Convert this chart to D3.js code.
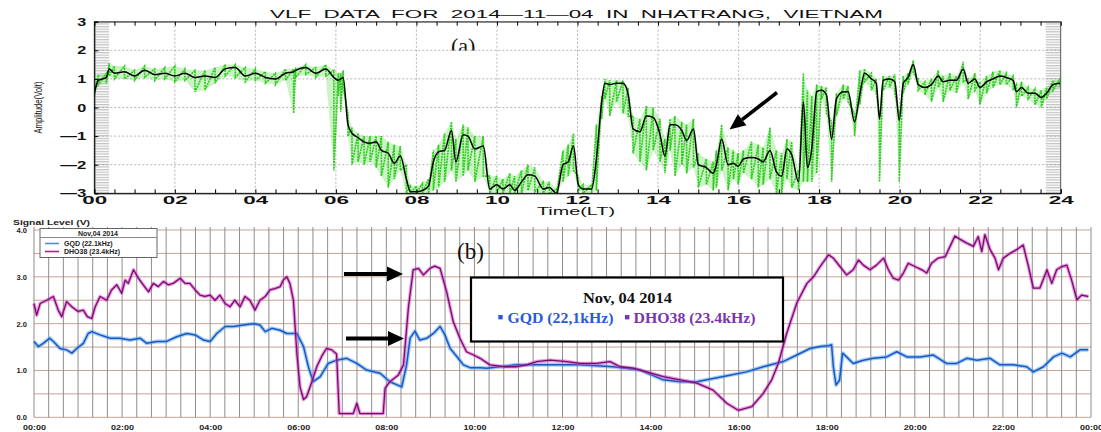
<!DOCTYPE html>
<html>
<head>
<meta charset="utf-8">
<script src="https://cdn.jsdelivr.net/npm/d3@7"></script>
<style>
  body { margin: 0; background: #fff; }
  svg { display: block; }
</style>
</head>
<body>
<div id="chart"></div>
<script>
// ---- panel (a): VLF amplitude, hours LT
const aTime = [
  0, 0.1, 0.3, 0.37, 0.5, 0.75, 1, 1.25, 1.5, 1.75,
  2, 2.25, 2.5, 2.75, 3, 3.25, 3.5, 3.75, 4, 4.25,
  4.5, 4.75, 4.95, 5, 5.25, 5.5, 5.75, 5.95, 6.06, 6.12,
  6.18, 6.3, 6.4, 6.55, 6.7, 6.85, 7, 7.13, 7.3, 7.45,
  7.6, 7.75, 7.85, 8, 8.15, 8.3, 8.42, 8.55, 8.7, 8.87,
  8.98, 9.16, 9.28, 9.45, 9.66, 9.82, 9.99, 10.15, 10.32, 10.44,
  10.61, 10.77, 10.94, 11.15, 11.3, 11.48, 11.64, 11.77, 11.9, 12.02,
  12.14, 12.35, 12.47, 12.6, 12.68, 12.8, 12.97, 13.13, 13.26, 13.38,
  13.55, 13.71, 13.88, 14.05, 14.17, 14.3, 14.42, 14.59, 14.71, 14.88,
  15, 15.2, 15.37, 15.45, 15.58, 15.74, 15.87, 15.99, 16.12, 16.32,
  16.49, 16.61, 16.78, 16.94, 17.07, 17.2, 17.32, 17.49, 17.61, 17.71,
  17.82, 17.94, 18.06, 18.18, 18.31, 18.43, 18.6, 18.72, 18.88, 19.01,
  19.13, 19.3, 19.42, 19.5, 19.59, 19.75, 19.88, 19.99, 20.09, 20.21,
  20.34, 20.46, 20.63, 20.79, 20.96, 21.08, 21.25, 21.41, 21.58, 21.7,
  21.87, 21.99, 22.16, 22.32, 22.49, 22.65, 22.82, 22.9, 23.03, 23.19,
  23.36, 23.52, 23.65, 23.81, 23.98
];
// smoothed (black) amplitude
const aAmp = [
  0.5, 0.95, 1.05, 1.35, 1.2, 1.25, 1.1, 1.3, 1.15, 1.2,
  1.1, 1.2, 1.05, 1.1, 1.05, 1.35, 1.4, 1.1, 1.2, 1.05,
  1.0, 1.2, 1.25, 1.3, 1.4, 1.2, 1.35, 1.05, 0.95, 1.0,
  1.05, -0.6, -0.9, -1.05, -1.2, -1.25, -1.2, -1.5, -1.6, -1.95,
  -1.7, -2.5, -2.95, -2.95, -2.9, -2.75, -1.9, -1.55, -1.5, -0.8,
  -1.9, -0.95, -1.0, -1.45, -1.35, -2.85, -2.7, -2.85, -2.7, -2.9,
  -2.6, -2.35, -2.4, -2.85, -2.8, -3.0, -2.0, -1.9, -1.35, -2.7,
  -2.85, -2.85, -1.8, 0.2, 0.85, 0.8, 0.85, 0.85, 0.45, -0.75,
  -0.85, -0.3, -0.35, -0.95, -1.7, -0.6, -0.6, -0.8, -1.15, -0.75,
  -2.0, -2.1, -2.3, -2.0, -1.1, -2.0, -1.95, -2.05, -1.8, -1.75,
  -1.8, -1.9, -1.5, -2.25, -2.4, -1.45, -1.65, -2.6, 0.2, -2.1,
  -1.4, 0.55, 0.6, 0.45, -1.1, 0.3, 0.55, 0.55, -0.5, 0.45,
  1.2, 1.0, 0.85, -0.4, 0.95, 1.0, 0.9, -0.45, 0.85, 1.05,
  1.5, 0.8, 0.7, 0.8, 1.1, 0.9, 0.95, 0.95, 1.35, 0.85,
  1.0, 0.7, 0.9, 1.0, 1.1, 1.05, 0.95, 0.55, 0.7, 0.5,
  0.5, 0.35, 0.5, 0.8, 0.85
];
// raw (green) data, upper and lower excursions at the same times
const aHi = [
  0.6, 1.15, 1.2, 1.55, 1.45, 1.45, 1.3, 1.45, 1.35, 1.4,
  1.45, 1.35, 1.3, 1.3, 1.4, 1.5, 1.5, 1.4, 1.35, 1.25,
  1.2, 1.35, 1.35, 1.4, 1.5, 1.4, 1.5, 1.3, 1.2, 1.2,
  1.3, -0.2, -0.7, -0.9, -1.0, -1.0, -1.0, -1.0, -1.2, -1.3,
  -1.35, -2.0, -2.7, -2.75, -2.65, -2.5, -1.5, -1.3, -0.9, -0.5,
  -1.1, -0.6, -0.7, -1.0, -1.0, -2.4, -2.4, -2.5, -2.3, -2.4,
  -2.2, -2.0, -2.1, -2.6, -2.6, -2.85, -1.5, -1.3, -0.9, -2.4,
  -2.7, -2.7, -0.6, 0.4, 1.0, 0.95, 0.95, 0.95, 0.7, -0.3,
  -0.4, 0.05, 0.0, -0.4, -1.1, -0.4, -0.3, -0.5, -0.6, -0.4,
  -1.6, -1.8, -1.9, -1.5, -0.6, -1.4, -1.5, -1.6, -1.5, -1.2,
  -1.3, -1.4, -0.7, -1.5, -1.6, -1.1, -1.2, -2.2, 1.2, 0.6,
  0.4, 0.8, 0.75, 0.7, -0.5, 0.5, 0.8, 0.75, -0.2, 1.3,
  1.35, 1.2, 1.0, -0.2, 1.1, 1.1, 1.15, -0.2, 1.1, 1.2,
  1.65, 1.0, 0.9, 1.0, 1.3, 1.1, 1.2, 1.1, 1.6, 1.0,
  1.2, 0.9, 1.1, 1.25, 1.3, 1.2, 1.1, 0.8, 0.9, 0.7,
  0.65, 0.6, 0.7, 0.95, 1.0
];
const aLo = [
  0.4, 0.8, 0.85, 1.1, 1.0, 1.0, 0.95, 1.05, 0.95, 1.0,
  0.9, 0.95, 0.55, 0.6, 0.85, 1.1, 1.05, 0.9, 0.95, 0.85,
  0.8, 0.95, -0.2, 1.05, 1.15, 1.05, 1.1, -2.2, 0.4, -0.15,
  0.7, -1.0, -2.0, -1.9, -2.0, -1.9, -2.1, -2.4, -2.8, -2.5,
  -2.2, -3.0, -3.0, -3.0, -3.0, -3.0, -2.9, -2.8, -2.6, -2.2,
  -2.6, -2.4, -2.2, -2.6, -2.4, -3.0, -3.0, -3.0, -3.0, -3.0,
  -3.0, -2.9, -2.95, -3.0, -3.0, -3.0, -2.6, -2.4, -2.2, -2.9,
  -3.0, -3.0, -2.9, -0.4, 0.3, -0.3, 0.2, -0.2, -0.3, -1.6,
  -1.9, -2.2, -1.5, -1.9, -2.3, -1.5, -2.4, -2.0, -2.3, -2.1,
  -2.8, -2.7, -2.9, -2.8, -2.2, -2.9, -2.5, -2.7, -2.3, -2.5,
  -2.8, -2.7, -2.5, -3.0, -3.0, -2.5, -2.8, -2.9, -2.6, -2.6,
  -2.6, -2.3, 0.3, -0.2, -2.6, -0.3, 0.3, 0.2, -1.0, 0.1,
  0.9, 0.6, 0.5, -2.6, 0.6, 0.7, 0.5, -2.6, 0.5, 0.8,
  1.2, 0.6, 0.45, 0.2, 0.7, 0.2, 0.6, 0.5, 0.9, 0.3,
  0.6, 0.1, 0.5, 0.7, 0.8, 0.8, 0.6, 0.0, 0.4, 0.3,
  0.1, 0.0, 0.3, 0.6, 0.7
];
const aYTicks = [-3, -2, -1, 0, 1, 2, 3];
const aXTicks = [0, 2, 4, 6, 8, 10, 12, 14, 16, 18, 20, 22, 24];

// ---- panel (b): signal level [hour, volt]
const dhoSeries = [
  [0, 2.43], [0.06, 2.18], [0.14, 2.43], [0.29, 2.5], [0.44, 2.58], [0.55, 2.29], [0.63, 2.15], [0.74, 2.47],
  [0.86, 2.36], [1.0, 2.26], [1.12, 2.29], [1.21, 2.15], [1.31, 2.11], [1.39, 2.36], [1.5, 2.58], [1.65, 2.5],
  [1.76, 2.72], [1.88, 2.83], [1.99, 2.65], [2.07, 2.93], [2.14, 2.86], [2.26, 3.15], [2.37, 2.97], [2.48, 2.83],
  [2.6, 2.68], [2.71, 2.86], [2.82, 2.79], [2.94, 2.9], [3.05, 2.83], [3.16, 2.86], [3.32, 2.97], [3.43, 2.86],
  [3.54, 2.86], [3.66, 2.72], [3.77, 2.61], [3.88, 2.58], [4.0, 2.61], [4.11, 2.5], [4.22, 2.61], [4.34, 2.43],
  [4.45, 2.36], [4.56, 2.5], [4.68, 2.36], [4.79, 2.58], [4.9, 2.5], [5.02, 2.29], [5.13, 2.5], [5.25, 2.58],
  [5.36, 2.72], [5.47, 2.75], [5.59, 2.79], [5.66, 2.93], [5.74, 3.0], [5.81, 2.86], [5.89, 2.5], [5.97, 1.35],
  [6.04, 0.65], [6.12, 0.38], [6.19, 0.44], [6.31, 0.76], [6.42, 1.08], [6.53, 1.3], [6.64, 1.47], [6.76, 1.44],
  [6.87, 1.35], [6.93, 0.08], [7.25, 0.08], [7.33, 0.3], [7.4, 0.08], [7.93, 0.08], [7.97, 0.62], [8.08, 0.76],
  [8.27, 0.9], [8.39, 1.12], [8.5, 2.33], [8.61, 3.15], [8.73, 3.18], [8.84, 3.04], [8.99, 3.18], [9.1, 3.23],
  [9.22, 3.18], [9.37, 2.68], [9.52, 2.04], [9.67, 1.69], [9.82, 1.4], [9.98, 1.33], [10.13, 1.26], [10.35, 1.12],
  [10.66, 1.08], [10.96, 1.08], [11.19, 1.12], [11.41, 1.19], [11.72, 1.22], [12.1, 1.19], [12.4, 1.15], [12.78, 1.15],
  [13.08, 1.19], [13.31, 1.08], [13.61, 1.05], [13.91, 0.97], [14.29, 0.87], [14.67, 0.8], [15.05, 0.73], [15.42, 0.58],
  [15.73, 0.3], [15.99, 0.15], [16.3, 0.23], [16.55, 0.5], [16.75, 0.8], [16.9, 1.15], [17.09, 1.79], [17.32, 2.44],
  [17.55, 2.86], [17.7, 3.0], [17.85, 3.22], [18.04, 3.47], [18.15, 3.4], [18.3, 3.22], [18.45, 3.04], [18.6, 3.15],
  [18.72, 3.36], [18.83, 3.25], [18.98, 3.15], [19.13, 3.25], [19.29, 3.4], [19.4, 3.15], [19.51, 2.97], [19.63, 2.93],
  [19.74, 3.08], [19.85, 3.29], [20.0, 3.22], [20.16, 3.15], [20.27, 3.08], [20.38, 3.29], [20.53, 3.4], [20.69, 3.43],
  [20.8, 3.65], [20.91, 3.87], [21.03, 3.8], [21.18, 3.72], [21.33, 3.65], [21.44, 3.86], [21.52, 3.54], [21.59, 3.9],
  [21.71, 3.58], [21.82, 3.4], [21.9, 3.15], [22.01, 3.4], [22.16, 3.5], [22.31, 3.58], [22.46, 3.68], [22.58, 3.22],
  [22.69, 2.76], [22.84, 2.76], [23.0, 3.15], [23.11, 2.86], [23.22, 3.15], [23.34, 3.22], [23.45, 3.25], [23.56, 2.93],
  [23.68, 2.51], [23.79, 2.61], [23.94, 2.58]
];
const gqdSeries = [
  [0, 1.62], [0.1, 1.51], [0.21, 1.58], [0.36, 1.69], [0.48, 1.58], [0.59, 1.47], [0.74, 1.44], [0.86, 1.37],
  [0.97, 1.47], [1.12, 1.58], [1.23, 1.79], [1.31, 1.83], [1.5, 1.76], [1.73, 1.69], [1.95, 1.69], [2.18, 1.65],
  [2.41, 1.69], [2.56, 1.58], [2.79, 1.62], [3.01, 1.62], [3.24, 1.72], [3.47, 1.79], [3.66, 1.76], [3.85, 1.65],
  [4.0, 1.62], [4.15, 1.79], [4.34, 1.94], [4.53, 1.94], [4.75, 1.97], [4.98, 2.0], [5.13, 1.97], [5.25, 1.83],
  [5.4, 1.9], [5.59, 1.86], [5.74, 1.79], [5.97, 1.79], [6.12, 1.51], [6.23, 1.08], [6.34, 0.76], [6.5, 0.87],
  [6.68, 1.15], [6.87, 1.22], [7.1, 1.26], [7.33, 1.15], [7.55, 1.01], [7.86, 0.94], [8.08, 0.76], [8.35, 0.65],
  [8.46, 1.12], [8.54, 1.69], [8.65, 1.84], [8.76, 1.65], [8.92, 1.69], [9.07, 1.79], [9.22, 1.94], [9.33, 1.76],
  [9.45, 1.47], [9.6, 1.3], [9.75, 1.12], [9.9, 1.06], [10.13, 1.06], [10.28, 1.05], [10.58, 1.08], [10.96, 1.12],
  [11.34, 1.12], [11.72, 1.12], [12.4, 1.12], [13.15, 1.08], [13.76, 1.01], [14.29, 0.8], [14.67, 0.76], [15.05, 0.76],
  [15.42, 0.83], [15.8, 0.9], [16.18, 0.97], [16.56, 1.08], [17.01, 1.19], [17.32, 1.33], [17.62, 1.47], [17.85, 1.51],
  [18.04, 1.53], [18.11, 1.55], [18.15, 1.08], [18.21, 0.69], [18.29, 0.79], [18.36, 1.37], [18.45, 1.29], [18.6, 1.15],
  [18.83, 1.22], [19.06, 1.26], [19.36, 1.29], [19.59, 1.4], [19.82, 1.29], [20.12, 1.29], [20.42, 1.33], [20.72, 1.15],
  [20.95, 1.15], [21.18, 1.26], [21.41, 1.22], [21.71, 1.26], [21.93, 1.12], [22.24, 1.12], [22.54, 1.08], [22.69, 0.97],
  [22.92, 1.08], [23.15, 1.29], [23.34, 1.37], [23.53, 1.29], [23.75, 1.44], [23.94, 1.44]
];
const bYTicks = [0, 1, 2, 3, 4];
const bXTicks = [0, 2, 4, 6, 8, 10, 12, 14, 16, 18, 20, 22, 24];

const width = 1101;
const height = 432;

const svg = d3.select('#chart')
  .append('svg')
  .attr('width', width)
  .attr('height', height)
  .style('font-family', '"Liberation Sans", Arial, sans-serif');

const defs = svg.append('defs');
const hatch = defs.append('pattern')
  .attr('id', 'hatch')
  .attr('patternUnits', 'userSpaceOnUse')
  .attr('width', 6).attr('height', 2.6);
hatch.append('line')
  .attr('x1', 0).attr('x2', 6).attr('y1', 0.7).attr('y2', 0.7)
  .attr('stroke', '#9a9a9a').attr('stroke-width', 0.8);

// ================= panel (a) =================
const xa = d3.scaleLinear().domain([0, 24]).range([94.3, 1060.7]);
const ya = d3.scaleLinear().domain([-3, 3]).range([193.3, 21.7]);

defs.append('clipPath').attr('id', 'clipA')
  .append('rect')
  .attr('x', xa(0)).attr('y', ya(3))
  .attr('width', xa(24) - xa(0)).attr('height', ya(-3) - ya(3) + 1);

const ga = svg.append('g');

ga.append('g').selectAll('line')
  .data(d3.range(2, 24, 2))
  .join('line')
    .attr('x1', d => xa(d)).attr('x2', d => xa(d))
    .attr('y1', ya(3)).attr('y2', ya(-3))
    .attr('stroke', '#b4b4b4').attr('stroke-dasharray', '2,2');

ga.append('g').selectAll('line')
  .data(d3.range(-2, 3))
  .join('line')
    .attr('x1', xa(0)).attr('x2', xa(24))
    .attr('y1', d => ya(d)).attr('y2', d => ya(d))
    .attr('stroke', '#b4b4b4').attr('stroke-dasharray', '2,2');

// hatched strips at both ends of the day
[[0, 0.37], [23.63, 24]].forEach(([a, b]) => {
  ga.append('rect')
    .attr('x', xa(a)).attr('width', xa(b) - xa(a))
    .attr('y', ya(3)).attr('height', ya(-3) - ya(3))
    .attr('fill', 'url(#hatch)');
});

// raw data: faint band between excursions, then a dotted green zigzag
ga.append('path')
  .datum(aTime.map((t, i) => [t, aHi[i], aLo[i]]))
  .attr('clip-path', 'url(#clipA)')
  .attr('fill', '#44d433').attr('fill-opacity', 0.28)
  .attr('d', d3.area().x(d => xa(d[0])).y0(d => ya(d[2])).y1(d => ya(d[1])));

const zig = [];
aTime.forEach((t, i) => {
  zig.push([t, aHi[i]]);
  zig.push([t, aLo[i]]);
});
ga.append('path')
  .datum(zig)
  .attr('clip-path', 'url(#clipA)')
  .attr('fill', 'none')
  .attr('stroke', '#2ccc1c')
  .attr('stroke-width', 1.6)
  .attr('stroke-dasharray', '2,0.8')
  .attr('d', d3.line().x(d => xa(d[0])).y(d => ya(d[1])));

ga.append('path')
  .datum(aTime.map((t, i) => [t, aAmp[i]]))
  .attr('clip-path', 'url(#clipA)')
  .attr('fill', 'none')
  .attr('stroke', '#000')
  .attr('stroke-width', 1.5)
  .attr('d', d3.line().curve(d3.curveMonotoneX).x(d => xa(d[0])).y(d => ya(d[1])));

// frame and ticks
ga.append('rect')
  .attr('x', xa(0)).attr('y', ya(3))
  .attr('width', xa(24) - xa(0)).attr('height', ya(-3) - ya(3))
  .attr('fill', 'none').attr('stroke', '#555');

ga.append('g')
  .attr('transform', `translate(0,${ya(-3)})`)
  .call(d3.axisBottom(xa).tickValues(d3.range(0, 24.01, 0.5)).tickSize(-4).tickFormat(''))
  .call(g => g.select('.domain').attr('stroke', '#000'));
ga.append('g')
  .attr('transform', `translate(0,${ya(3)})`)
  .call(d3.axisTop(xa).tickValues(d3.range(0, 24.01, 0.5)).tickSize(-4).tickFormat(''))
  .call(g => g.select('.domain').attr('stroke', '#666'));
ga.append('g')
  .attr('transform', `translate(${xa(0)},0)`)
  .call(d3.axisLeft(ya).tickValues(aYTicks).tickSize(-4).tickFormat(''))
  .call(g => g.select('.domain').attr('stroke', '#000'));

ga.append('g')
  .attr('transform', `translate(0,${ya(-3)})`)
  .call(d3.axisBottom(xa).tickValues(aXTicks).tickSize(0).tickPadding(3).tickFormat(d3.format('02d')))
  .call(g => g.select('.domain').remove())
  .call(g => g.selectAll('text')
    .attr('fill', '#111').attr('font-size', 10.5).attr('font-weight', 'bold')
    .attr('textLength', 25).attr('lengthAdjust', 'spacingAndGlyphs'));

ga.append('g')
  .attr('transform', `translate(${xa(0)},0)`)
  .call(d3.axisLeft(ya).tickValues(aYTicks).tickSize(0).tickPadding(8)
    .tickFormat(d => d < 0 ? '\u2014' + Math.abs(d) : String(d)))
  .call(g => g.select('.domain').remove())
  .call(g => g.selectAll('text')
    .attr('fill', '#111').attr('font-size', 11).attr('font-weight', 'bold')
    .attr('textLength', d => d < 0 ? 26 : 9).attr('lengthAdjust', 'spacingAndGlyphs'));

svg.append('text')
  .attr('x', 270).attr('y', 17.5)
  .attr('font-size', 11)
  .attr('fill', '#111')
  .style('white-space', 'pre')
  .attr('textLength', 613).attr('lengthAdjust', 'spacingAndGlyphs')
  .text('VLF  DATA  FOR  2014\u201411\u201404  IN  NHATRANG,  VIETNAM');

svg.append('text')
  .attr('x', 576).attr('y', 215)
  .attr('text-anchor', 'middle')
  .attr('font-size', 10.5).attr('fill', '#111')
  .attr('textLength', 78).attr('lengthAdjust', 'spacingAndGlyphs')
  .text('Time(LT)');

svg.append('text')
  .attr('transform', 'translate(42,107.5) rotate(-90)')
  .attr('text-anchor', 'middle')
  .attr('font-size', 11).attr('fill', '#111')
  .attr('textLength', 52).attr('lengthAdjust', 'spacingAndGlyphs')
  .text('Amplitude(Volt)');

defs.append('clipPath').attr('id', 'clipLabelA')
  .append('rect').attr('x', 440).attr('y', 25).attr('width', 60).attr('height', 25.5);
svg.append('text')
  .attr('clip-path', 'url(#clipLabelA)')
  .attr('x', 451).attr('y', 53)
  .attr('font-family', '"Liberation Serif", "Times New Roman", serif')
  .attr('font-size', 22).attr('fill', '#111')
  .text('(a)');

// ================= panel (b) =================
const xb = d3.scaleLinear().domain([0, 24]).range([34, 1091]);
const yb = d3.scaleLinear().domain([0, 4]).range([417.3, 230]);
const gb = svg.append('g');

gb.append('g').selectAll('line')
  .data(d3.range(0, 9).map(i => i / 2))
  .join('line')
    .attr('x1', xb(0)).attr('x2', xb(24))
    .attr('y1', d => yb(d)).attr('y2', d => yb(d))
    .attr('stroke', '#c9a393').attr('stroke-width', 1);

gb.append('g').selectAll('line')
  .data(d3.range(0, 73).map(i => i / 3))
  .join('line')
    .attr('x1', d => xb(d)).attr('x2', d => xb(d))
    .attr('y1', yb(4) - 3).attr('y2', yb(0))
    .attr('stroke', '#8e8e8e').attr('stroke-width', 1);

function glowLine(series, glow, core, gw, cw) {
  const line = d3.line().x(d => xb(d[0])).y(d => yb(d[1]));
  gb.append('path').datum(series)
    .attr('fill', 'none').attr('stroke', glow).attr('stroke-width', gw)
    .attr('stroke-opacity', 0.55).attr('stroke-linejoin', 'round')
    .attr('d', line);
  gb.append('path').datum(series)
    .attr('fill', 'none').attr('stroke', core).attr('stroke-width', cw)
    .attr('stroke-linejoin', 'round')
    .attr('d', line);
}
glowLine(gqdSeries, '#5aa8f0', '#1f55c0', 4, 1.5);
glowLine(dhoSeries, '#e23ad6', '#6e1262', 3.5, 1.3);

gb.append('g')
  .attr('transform', `translate(${xb(0)},0)`)
  .call(d3.axisLeft(yb).tickValues(bYTicks).tickSize(0).tickPadding(7).tickFormat(d3.format('.1f')))
  .call(g => g.select('.domain').remove())
  .call(g => g.selectAll('text')
    .attr('fill', '#222').attr('font-size', 7.5).attr('font-weight', 'bold'));

gb.append('g')
  .attr('transform', `translate(0,${yb(0)})`)
  .call(d3.axisBottom(xb).tickValues(bXTicks).tickSize(0).tickPadding(7)
    .tickFormat(d => d3.format('02d')(d % 24) + ':00'))
  .call(g => g.select('.domain').remove())
  .call(g => g.selectAll('text')
    .attr('fill', '#222').attr('font-size', 7.5).attr('font-weight', 'bold')
    .attr('textLength', 23).attr('lengthAdjust', 'spacingAndGlyphs'));

svg.append('text')
  .attr('x', 13).attr('y', 224.5)
  .attr('font-size', 7.5).attr('font-weight', 'bold').attr('fill', '#222')
  .attr('textLength', 77).attr('lengthAdjust', 'spacingAndGlyphs')
  .text('Signal Level (V)');

// small legend, upper left
const lg = svg.append('g');
lg.append('rect').attr('x', 40).attr('y', 228.5).attr('width', 117).attr('height', 29)
  .attr('fill', '#fff').attr('stroke', '#666');
lg.append('line').attr('x1', 40).attr('x2', 157).attr('y1', 237.5).attr('y2', 237.5)
  .attr('stroke', '#888');
lg.append('text').attr('x', 98).attr('y', 235.5).attr('text-anchor', 'middle')
  .attr('font-size', 7).attr('font-weight', 'bold').attr('fill', '#222')
  .text('Nov,04 2014');
[['GQD (22.1kHz)', '#4a8fdc', 243.5], ['DHO38 (23.4kHz)', '#b0207f', 251.5]].forEach(([label, c, y]) => {
  lg.append('line').attr('x1', 45).attr('x2', 59).attr('y1', y).attr('y2', y)
    .attr('stroke', c).attr('stroke-width', 1.6);
  lg.append('text').attr('x', 64).attr('y', y + 2.5)
    .attr('font-size', 7).attr('font-weight', 'bold').attr('fill', '#222')
    .text(label);
});

// big annotation box
const serif = '"Liberation Serif", "Times New Roman", serif';
const bx = svg.append('g');
bx.append('rect').attr('x', 471).attr('y', 277.5).attr('width', 312).attr('height', 64)
  .attr('fill', '#fff').attr('stroke', '#000').attr('stroke-width', 2.2);
bx.append('text').attr('x', 583).attr('y', 302.5)
  .attr('font-family', serif).attr('font-size', 15).attr('font-weight', 'bold').attr('fill', '#111')
  .attr('textLength', 89).attr('lengthAdjust', 'spacingAndGlyphs')
  .text('Nov, 04 2014');
bx.append('rect').attr('x', 498.3).attr('y', 315).attr('width', 4.4).attr('height', 4.4).attr('fill', '#2a5bd0');
bx.append('text').attr('x', 507.5).attr('y', 322.5)
  .attr('font-family', serif).attr('font-size', 15).attr('font-weight', 'bold').attr('fill', '#2a5bd0')
  .attr('textLength', 106).attr('lengthAdjust', 'spacingAndGlyphs')
  .text('GQD (22,1kHz)');
bx.append('rect').attr('x', 625).attr('y', 315).attr('width', 4.4).attr('height', 4.4).attr('fill', '#7a35b0');
bx.append('text').attr('x', 633.5).attr('y', 322.5)
  .attr('font-family', serif).attr('font-size', 15).attr('font-weight', 'bold').attr('fill', '#7a35b0')
  .attr('textLength', 122).attr('lengthAdjust', 'spacingAndGlyphs')
  .text('DHO38 (23.4kHz)');

svg.append('text')
  .attr('x', 457).attr('y', 259)
  .attr('font-family', serif).attr('font-size', 23).attr('fill', '#111')
  .text('(b)');

// arrows
function arrow(x1, y1, x2, y2, hl, hw, sw) {
  const a = Math.atan2(y2 - y1, x2 - x1);
  const ex = x2 - hl * Math.cos(a), ey = y2 - hl * Math.sin(a);
  svg.append('line')
    .attr('x1', x1).attr('y1', y1).attr('x2', ex).attr('y2', ey)
    .attr('stroke', '#000').attr('stroke-width', sw);
  const px = -Math.sin(a) * hw / 2, py = Math.cos(a) * hw / 2;
  svg.append('polygon')
    .attr('points', `${x2},${y2} ${ex + px},${ey + py} ${ex - px},${ey - py}`)
    .attr('fill', '#000');
}
arrow(777, 92.5, 729.5, 129.5, 16, 14, 3.6);
arrow(344, 274, 403, 274, 16, 15, 4);
arrow(346, 338.5, 404, 338.5, 16, 15, 4);
</script>
</body>
</html>
